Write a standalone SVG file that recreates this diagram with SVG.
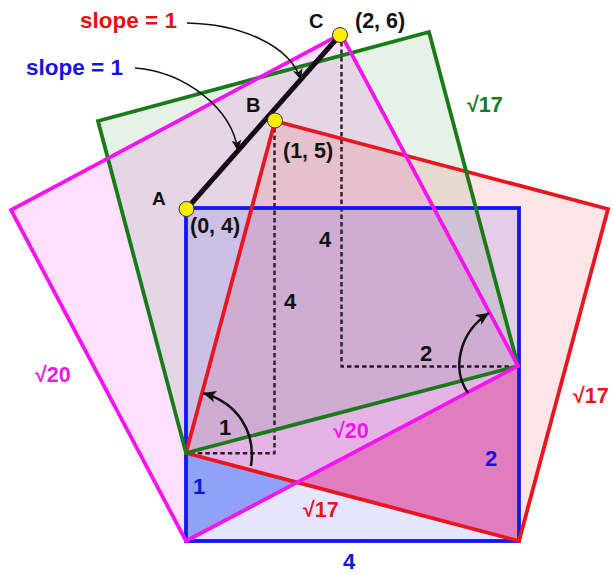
<svg xmlns="http://www.w3.org/2000/svg" width="613" height="574" viewBox="0 0 613 574">
<defs>
<style>
text{font-family:"Liberation Sans",Arial,sans-serif;font-weight:bold}
.blk{fill:#111}
.edge{fill:none;stroke-width:3.8;stroke-linejoin:miter}
.dash{fill:none;stroke:#2a1a2a;stroke-width:2.4;stroke-dasharray:4.5 3;stroke-linejoin:round}
.thin{fill:none;stroke:#111;stroke-width:1.5}
.ang{fill:none;stroke:#111;stroke-width:2.5}
.pt{fill:#ffee00;stroke:#333;stroke-width:1}
</style>
<marker id="ahs" viewBox="0 0 10 10" refX="10" refY="5" markerWidth="11" markerHeight="11" markerUnits="userSpaceOnUse" orient="auto">
<path d="M0,0.5 L10,5 L0,9.5 L2.5,5 z" fill="#111"/>
</marker>
<marker id="ahl" viewBox="0 0 10 10" refX="10" refY="5" markerWidth="13" markerHeight="13" markerUnits="userSpaceOnUse" orient="auto">
<path d="M0,0.5 L10,5 L0,9.5 L2.5,5 z" fill="#111"/>
</marker>
</defs>
<rect width="613" height="574" fill="#fff"/>

<g id="fills">
<polygon points="186,541 518,366 341,34 11,210" fill="#ff00ff" fill-opacity="0.12"/>
<polygon points="186,453 518,366 429,32 98,121" fill="#008000" fill-opacity="0.1"/>
<polygon points="186,453 275,121 608,209 519,541" fill="#ff0000" fill-opacity="0.1"/>
<rect x="186" y="208" width="333" height="333" fill="#0000ff" fill-opacity="0.1"/>
<polygon points="186,453 186,541 297.2,482.4" fill="#8fa2f5"/>
<polygon points="297.2,482.4 518,366 519,541" fill="#e07cc0"/>
</g>

<g id="dashes">
<path class="dash" d="M274.5,128 V453.3 H190"/>
<path class="dash" d="M341.5,42 V366.5 H512"/>
</g>

<g id="square-blue"><rect class="edge" x="186" y="208" width="333" height="333" stroke="#1414f5"/></g>
<g id="square-red"><polygon class="edge" points="186,453 275,121 608,209 519,541" stroke="#ea1520"/></g>
<g id="square-green"><polygon class="edge" points="186,453 518,366 429,32 98,121" stroke="#187a18"/></g>
<g id="square-magenta"><polygon class="edge" points="186,541 518,366 341,34 11,210" stroke="#f514f0"/></g>

<g id="connectors">
<path class="thin" d="M135,68 C185,72 232,108 238,151" marker-end="url(#ahs)"/>
<path class="thin" d="M187,23 C240,24 290,45 301,80" marker-end="url(#ahs)"/>
<path class="ang" d="M251,466 C256,432 238,403 203,393" marker-end="url(#ahl)"/>
<path class="ang" d="M468,393 C452,370 458,333 489,313" marker-end="url(#ahl)"/>
</g>

<g id="segment-AC"><line x1="186.5" y1="209" x2="340" y2="35" stroke="#150a15" stroke-width="5"/></g>
<g id="point-A"><circle class="pt" cx="186.5" cy="209" r="7.5"/><text class="blk" x="152" y="205" font-size="19">A</text><text class="blk" x="190" y="233" font-size="21.5">(0, 4)</text></g>
<g id="point-B"><circle class="pt" cx="275" cy="120.5" r="7.5"/><text class="blk" x="246" y="111.5" font-size="20">B</text><text class="blk" x="283" y="158" font-size="21.5">(1, 5)</text></g>
<g id="point-C"><circle class="pt" cx="340" cy="35" r="7.5"/><text class="blk" x="309" y="28" font-size="20">C</text><text class="blk" x="355" y="28" font-size="21.5">(2, 6)</text></g>

<g id="labels">
<text x="80" y="28" font-size="22.5" fill="#e81010">slope = 1</text>
<text x="26" y="75" font-size="22.5" fill="#1414e0">slope = 1</text>
<text x="467" y="112" font-size="21.5" fill="#187a18">√17</text>
<text x="573" y="403" font-size="21.5" fill="#ea1520">√17</text>
<text x="303" y="517" font-size="21.5" fill="#ea1520">√17</text>
<text x="35" y="382" font-size="21.5" fill="#f514f0">√20</text>
<text x="333" y="438" font-size="21.5" fill="#f514f0">√20</text>
<text x="193" y="494" font-size="22" fill="#1414e0">1</text>
<text x="485" y="466" font-size="22" fill="#1414e0">2</text>
<text x="343" y="569" font-size="22" fill="#1414e0">4</text>
<text class="blk" x="219" y="435" font-size="22">1</text>
<text class="blk" x="420" y="361" font-size="22">2</text>
<text class="blk" x="319" y="247" font-size="22">4</text>
<text class="blk" x="284" y="309" font-size="22">4</text>
</g>
</svg>
